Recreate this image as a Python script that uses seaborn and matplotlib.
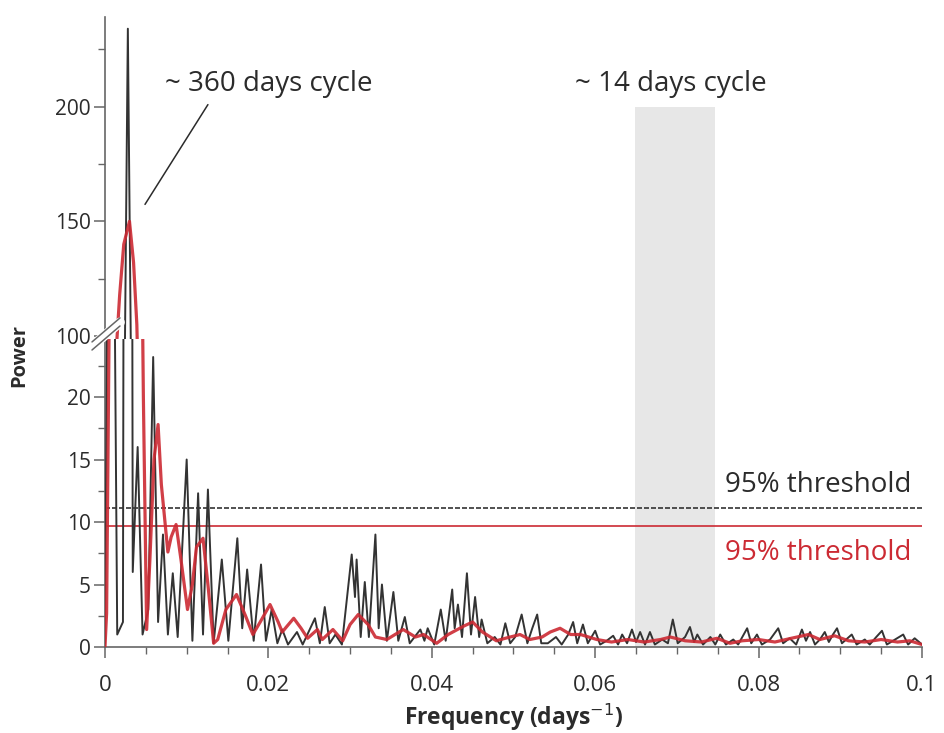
import matplotlib
matplotlib.use("Agg")
import matplotlib.pyplot as plt
from matplotlib.lines import Line2D
from matplotlib.ticker import MultipleLocator
import seaborn as sns

# periodogram (black) - peaks and troughs
freq_raw = [0.0000, 0.0007, 0.0015, 0.0022, 0.0028, 0.0034, 0.0040, 0.0046, 0.0053,
            0.0059, 0.0065, 0.0071, 0.0077, 0.0083, 0.0089, 0.0100, 0.0107, 0.0114,
            0.0120, 0.0126, 0.0133, 0.0143, 0.0151, 0.0162, 0.0168, 0.0174, 0.0182,
            0.0191, 0.0197, 0.0204, 0.0211, 0.0217, 0.0224, 0.0235, 0.0242, 0.0257,
            0.0263, 0.0269, 0.0275, 0.0282, 0.0290, 0.0302, 0.0306, 0.0308, 0.0313,
            0.0318, 0.0323, 0.0331, 0.0335, 0.0339, 0.0345, 0.0353, 0.0359, 0.0367,
            0.0373, 0.0386, 0.0391, 0.0395, 0.0403, 0.0411, 0.0417, 0.0425, 0.0428,
            0.0432, 0.0437, 0.0443, 0.0448, 0.0453, 0.0458, 0.0461, 0.0468, 0.0477,
            0.0484, 0.0490, 0.0496, 0.0502, 0.0510, 0.0517, 0.0523, 0.0529, 0.0534,
            0.0542, 0.0552, 0.0559, 0.0567, 0.0573, 0.0578, 0.0585, 0.0591, 0.0600,
            0.0606, 0.0614, 0.0622, 0.0628, 0.0633, 0.0639, 0.0645, 0.0650, 0.0655,
            0.0661, 0.0667, 0.0673, 0.0682, 0.0689, 0.0695, 0.0701, 0.0710, 0.0716,
            0.0721, 0.0725, 0.0732, 0.0741, 0.0747, 0.0753, 0.0760, 0.0769, 0.0775,
            0.0786, 0.0791, 0.0798, 0.0804, 0.0814, 0.0824, 0.0830, 0.0838, 0.0846,
            0.0853, 0.0858, 0.0863, 0.0869, 0.0875, 0.0881, 0.0886, 0.0891, 0.0896,
            0.0902, 0.0914, 0.0920, 0.0930, 0.0936, 0.0944, 0.0951, 0.0957, 0.0967,
            0.0977, 0.0983, 0.0991, 0.1000]
power_raw = [0.3, 70.0, 1.0, 2.0, 234.0, 6.0, 16.0, 1.0, 3.0,
             23.2, 2.0, 9.0, 1.0, 5.9, 0.8, 15.0, 0.5, 12.3,
             1.0, 12.6, 0.3, 7.0, 0.5, 8.7, 1.5, 6.2, 0.5,
             6.6, 0.5, 3.0, 0.3, 1.4, 0.2, 1.2, 0.2, 2.3,
             0.3, 3.2, 0.3, 1.0, 0.2, 7.4, 4.0, 7.0, 0.8,
             5.2, 0.8, 9.0, 1.5, 5.0, 0.5, 4.4, 0.5, 2.4,
             0.3, 1.4, 0.5, 1.5, 0.2, 3.0, 0.5, 4.6, 1.5,
             3.4, 0.8, 5.9, 1.0, 4.0, 0.8, 2.2, 0.3, 0.8,
             0.2, 1.9, 0.3, 0.8, 2.6, 0.3, 1.5, 2.6, 0.3,
             0.3, 0.8, 0.2, 1.0, 2.0, 0.3, 1.8, 0.3, 1.3,
             0.2, 0.5, 0.9, 0.2, 1.0, 0.3, 1.4, 0.4, 1.2,
             0.2, 1.2, 0.2, 0.6, 0.3, 2.2, 0.3, 0.8, 1.6,
             0.4, 1.0, 0.2, 0.8, 0.2, 1.0, 0.2, 0.6, 0.2,
             1.5, 0.3, 1.0, 0.2, 0.6, 1.5, 0.3, 0.7, 0.2,
             1.4, 0.5, 1.2, 0.2, 0.6, 1.2, 0.4, 1.0, 1.5,
             0.3, 1.0, 0.2, 0.6, 0.2, 0.8, 1.3, 0.2, 0.6,
             1.0, 0.2, 0.7, 0.2]

# smoothed spectrum (red)
freq_smooth = [0.0000, 0.0002, 0.0005, 0.0009, 0.0014, 0.0018, 0.0023, 0.0030, 0.0035,
               0.0039, 0.0043, 0.0047, 0.0051, 0.0055, 0.0060, 0.0065, 0.0069, 0.0077,
               0.0081, 0.0087, 0.0093, 0.0101, 0.0107, 0.0112, 0.0120, 0.0126, 0.0133,
               0.0138, 0.0148, 0.0161, 0.0172, 0.0181, 0.0190, 0.0202, 0.0212, 0.0217,
               0.0222, 0.0231, 0.0240, 0.0248, 0.0260, 0.0266, 0.0279, 0.0291, 0.0300,
               0.0310, 0.0322, 0.0331, 0.0345, 0.0365, 0.0380, 0.0390, 0.0406, 0.0420,
               0.0440, 0.0450, 0.0462, 0.0479, 0.0490, 0.0508, 0.0520, 0.0535, 0.0545,
               0.0557, 0.0570, 0.0582, 0.0602, 0.0620, 0.0640, 0.0660, 0.0680, 0.0692,
               0.0710, 0.0730, 0.0749, 0.0765, 0.0780, 0.0800, 0.0820, 0.0840, 0.0861,
               0.0875, 0.0893, 0.0910, 0.0930, 0.0950, 0.0970, 0.0985, 0.1000]
power_smooth = [0.0, 2.7, 25.0, 60.0, 95.0, 118.0, 140.0, 150.0, 132.0,
                105.0, 45.0, 20.0, 1.4, 7.0, 15.0, 17.8, 13.0, 7.6,
                8.8, 9.8, 7.0, 3.0, 5.0, 8.0, 8.7, 5.0, 0.3,
                0.6, 3.0, 4.2, 2.5, 1.0, 2.0, 3.4, 2.0, 1.2,
                1.6, 2.3, 1.5, 0.7, 1.4, 0.6, 1.4, 0.5, 1.8,
                2.6, 1.8, 0.8, 0.6, 1.4, 0.8, 1.0, 0.3, 1.0,
                1.7, 2.0, 1.2, 0.5, 0.7, 1.0, 0.6, 0.8, 1.2,
                1.5, 1.0, 1.0, 0.6, 0.4, 0.6, 0.4, 0.6, 0.8,
                0.5, 0.4, 0.7, 0.3, 0.5, 0.6, 0.4, 0.7, 1.0,
                0.6, 0.9, 0.5, 0.4, 0.6, 0.4, 0.5, 0.2]

threshold_raw = 11.1
threshold_smooth = 9.7
band = (0.0649, 0.0747)
band_top = 200

x_ticks = [0, 0.02, 0.04, 0.06, 0.08, 0.1]
x_labels = ["0", "0.02", "0.04", "0.06", "0.08", "0.1"]
low_ticks = [0, 5, 10, 15, 20]
high_ticks = [100, 150, 200]

BLACK = "#2b2b2b"
RED = "#cc2a33"
GREY = "#666666"

sns.set_style("ticks")
plt.rcParams["font.family"] = ["Open Sans", "DejaVu Sans"]
plt.rcParams["axes.edgecolor"] = GREY
plt.rcParams["xtick.color"] = GREY
plt.rcParams["ytick.color"] = GREY
plt.rcParams["xtick.labelcolor"] = BLACK
plt.rcParams["ytick.labelcolor"] = BLACK

fig = plt.figure(figsize=(9.44, 7.33), dpi=100)
ax_lo = fig.add_axes([0.1112, 0.1173, 0.8655, 0.4202])
ax_hi = fig.add_axes([0.1112, 0.5375, 0.8655, 0.4393], sharex=ax_lo)

for ax in (ax_lo, ax_hi):
    sns.lineplot(x=freq_raw, y=power_raw, ax=ax, color="#333333", lw=1.4,
                 estimator=None, sort=False, zorder=3)
    sns.lineplot(x=freq_smooth, y=power_smooth, ax=ax, color=RED, lw=2.3,
                 estimator=None, sort=False, zorder=4, alpha=0.9)
    for s in ("top", "right"):
        ax.spines[s].set_visible(False)
    ax.spines["left"].set_linewidth(1.2)

# grey band: full lower panel, up to ~200 in the upper one
ax_lo.axvspan(*band, color="#e7e7e7", lw=0, zorder=0)
ax_hi.fill_between(band, 0, band_top, color="#e7e7e7", lw=0, zorder=0)

ax_lo.set_xlim(0, 0.1)
ax_lo.set_ylim(0, 24.64)
ax_hi.set_ylim(98.7, 239.1)

ax_lo.axhline(threshold_raw, color="#333333", lw=1.2, ls=(0, (3, 1.2)), zorder=2)
ax_lo.axhline(threshold_smooth, color=RED, lw=1.2, zorder=2)

ax_lo.set_xticks(x_ticks)
ax_lo.set_xticklabels(x_labels)
ax_lo.xaxis.set_minor_locator(MultipleLocator(0.005))
ax_lo.set_yticks(low_ticks)
ax_lo.yaxis.set_minor_locator(MultipleLocator(2.5))
ax_hi.set_yticks(high_ticks)
ax_hi.yaxis.set_minor_locator(MultipleLocator(25))
ax_lo.spines["bottom"].set_linewidth(1.2)
ax_hi.spines["bottom"].set_visible(False)
ax_hi.tick_params(axis="x", which="both", bottom=False, labelbottom=False)

for ax in (ax_lo, ax_hi):
    ax.tick_params(which="major", length=8, width=1.1, labelsize=15, pad=2)
    ax.tick_params(which="minor", length=5, width=1.0)
ax_lo.tick_params(axis="x", which="major", labelsize=16, pad=12)

ax_lo.set_xlabel("Frequency (days$^{-1}$)", fontsize=16.5, fontweight="bold",
                 color=BLACK, labelpad=4)
ax_lo.set_ylabel("")
ax_hi.set_ylabel("")
fig.text(0.02, 0.515, "Power", rotation=90, fontsize=14.5, fontweight="bold",
         color=BLACK, ha="center", va="center")

ax_hi.annotate("", xy=(0.0049, 157.4), xytext=(0.0126, 200.9),
               arrowprops=dict(arrowstyle="-", color=BLACK, lw=1.1,
                               shrinkA=0, shrinkB=0))
ax_hi.text(0.0073, 210, "~ 360 days cycle", fontsize=20, color=BLACK, ha="left", va="center")
ax_hi.text(0.0575, 210, "~ 14 days cycle", fontsize=20, color=BLACK, ha="left", va="center")

ax_lo.text(0.0759, 13.0, "95% threshold", fontsize=20, color=BLACK, ha="left", va="center")
ax_lo.text(0.0759, 7.5, "95% threshold", fontsize=20, color=RED, ha="left", va="center")

# axis break marks
def px(x, y):
    return x / 944, 1 - y / 733

(x0, y0), (x1, y1) = px(92, 350), px(120, 326)
fig.add_artist(Line2D([x0, x1], [y0 + 0.005, y1 + 0.005], color="white", lw=7, zorder=10))
for off in (0.0, 0.011):
    fig.add_artist(Line2D([x0, x1], [y0 + off, y1 + off], color=GREY, lw=1.1, zorder=11))

fig.savefig("out.png", dpi=100)
